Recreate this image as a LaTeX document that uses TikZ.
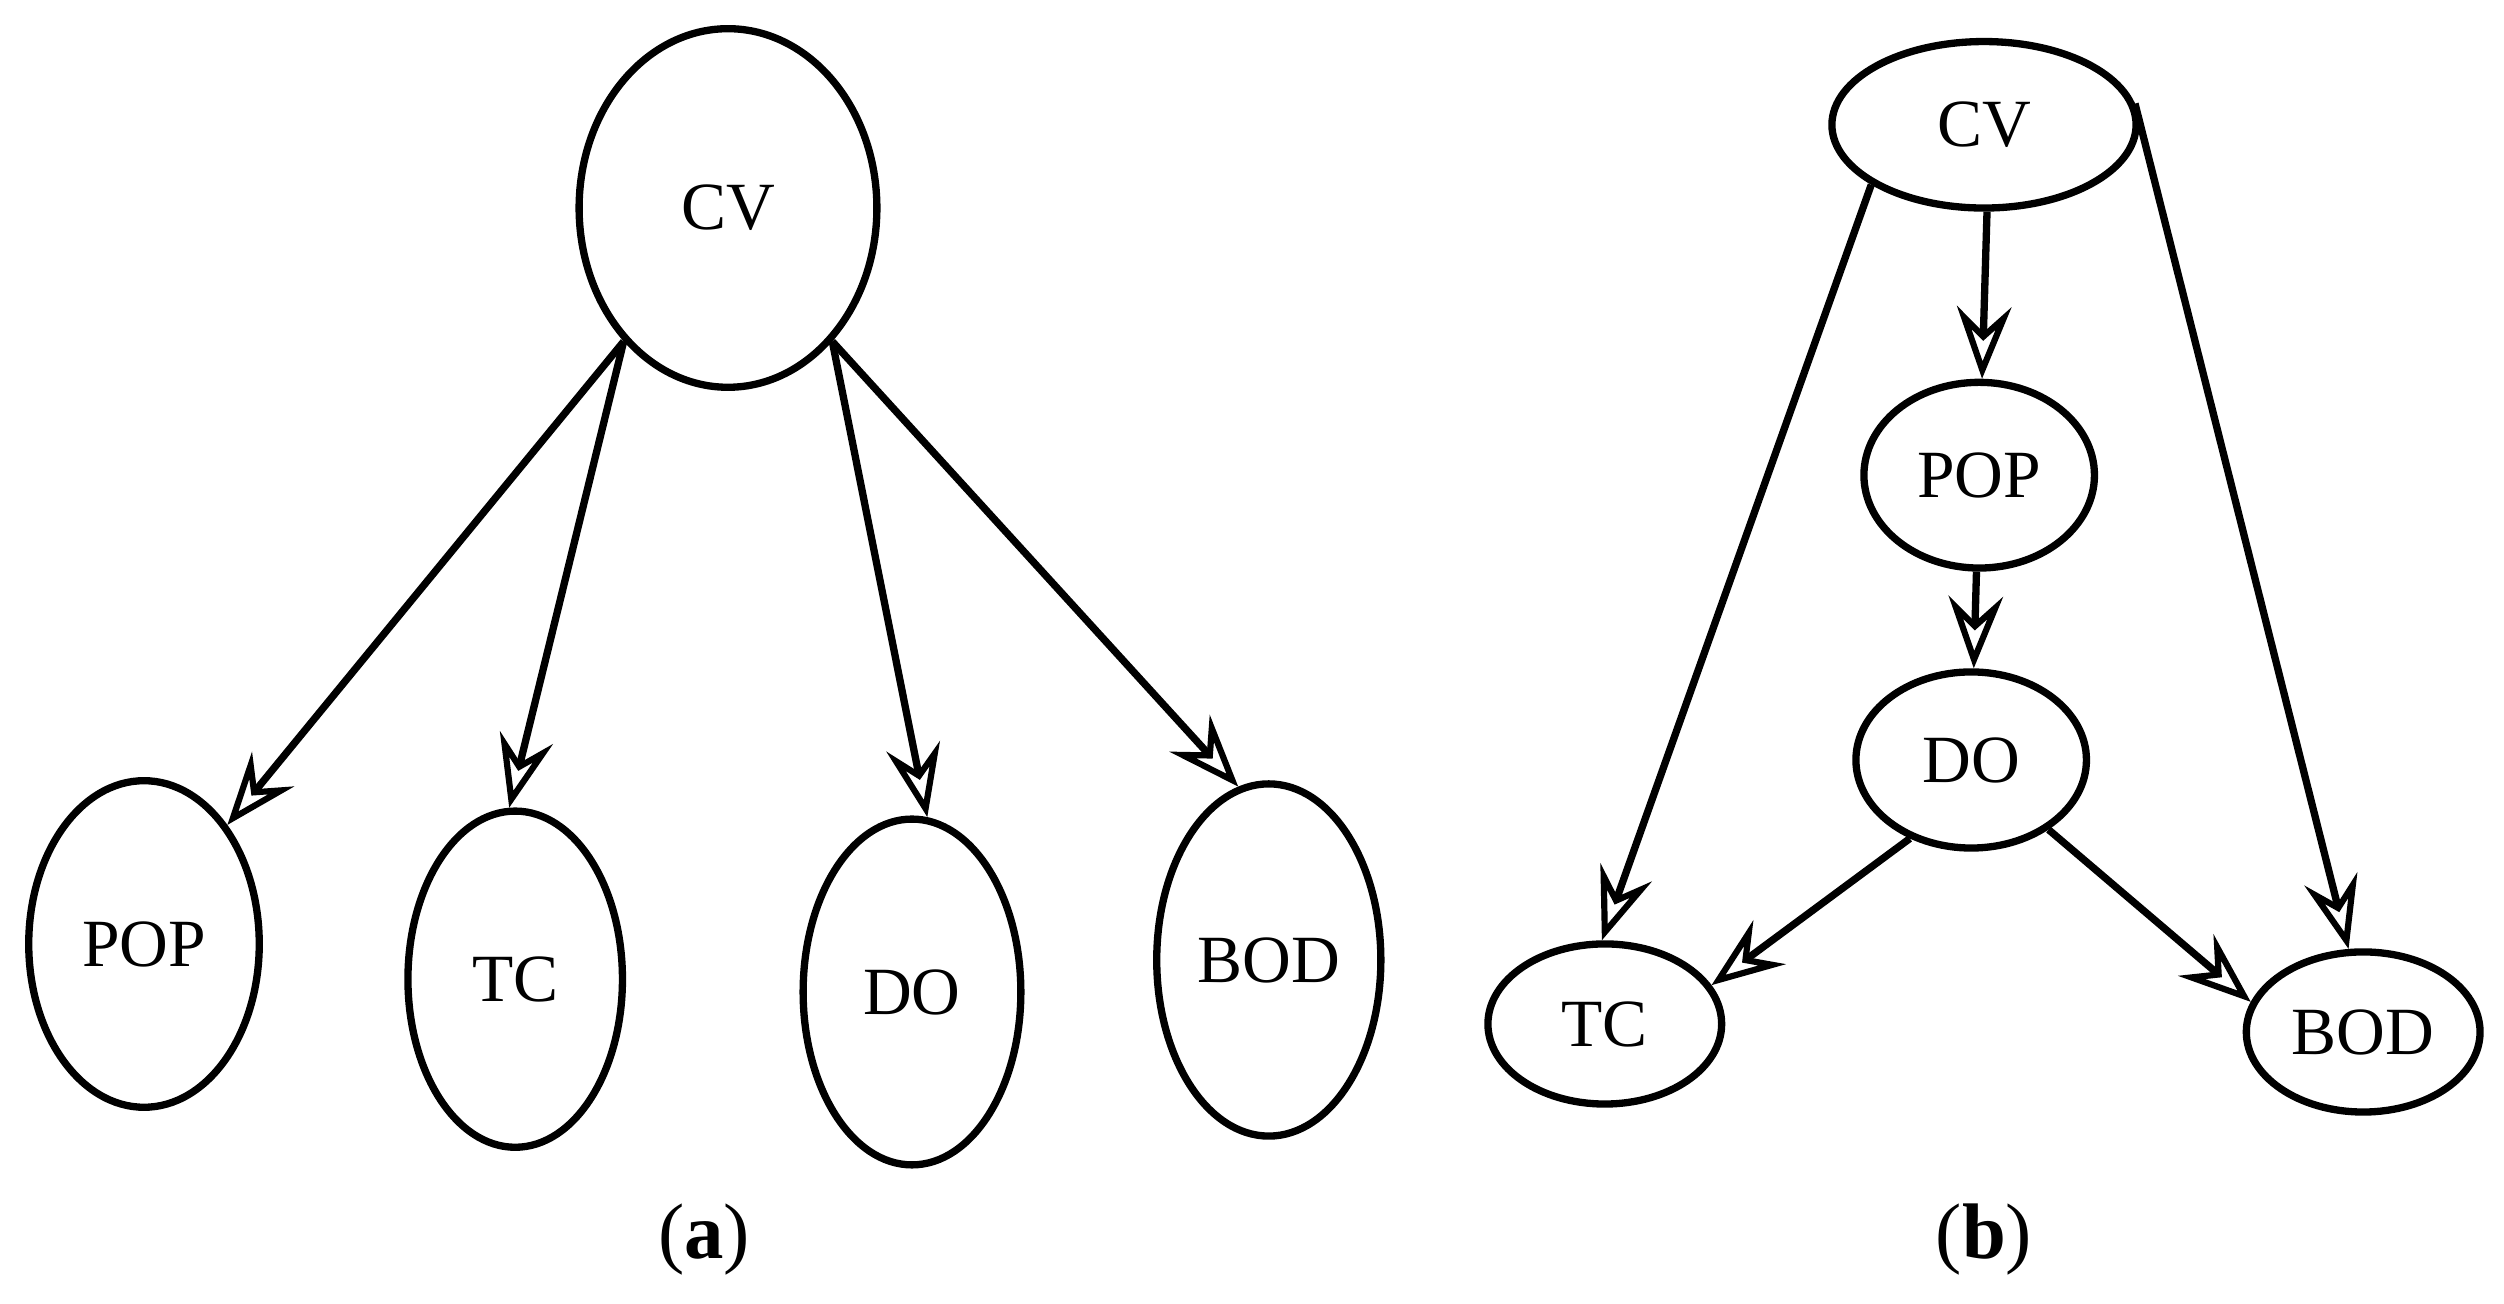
\documentclass[tikz,border=0pt]{standalone}
\usepackage{fontspec}
\setmainfont{Liberation Serif}
\usetikzlibrary{shapes.geometric}
\usetikzlibrary{arrows.meta}

\begin{document}
\begin{tikzpicture}[x=0.01cm,y=0.01cm]
			\tikzstyle{VertexStyle} = [shape = ellipse, draw, line width=1.3pt, inner sep=0pt, font=\fontsize{12}{14}\selectfont]
			\tikzstyle{EdgeStyle}   = [line width=1.3pt, -{Stealth[length=4.5mm,width=3.4mm,inset=1.6mm,line width=1.1pt,open]}]
			\useasboundingbox (0,0) rectangle (1565,815);
			%\draw[help lines] (0,0) grid (1565,815);
			% panel (a)
			\node[VertexStyle, minimum width=1.86cm, minimum height=2.24cm] (cva) at (455,685) {CV};
			\node[VertexStyle, minimum width=1.44cm, minimum height=2.04cm] (popa) at (90,225) {POP};
			\node[VertexStyle, minimum width=1.34cm, minimum height=2.10cm] (tca) at (322,203) {TC};
			\node[VertexStyle, minimum width=1.36cm, minimum height=2.16cm] (doa) at (570,195) {DO};
			\node[VertexStyle, minimum width=1.40cm, minimum height=2.20cm] (boda) at (793,215) {BOD};
			\draw[EdgeStyle] (cva.232) -- (popa.55);
			\draw[EdgeStyle] (cva.232) -- (tca.92);
			\draw[EdgeStyle] (cva.308) -- (doa.85);
			\draw[EdgeStyle] (cva.308) -- (boda.100);
			\node[font=\fontsize{14}{16}\selectfont] (capa) at (440,40) {(\textbf{a})};
			% panel (b)
			\node[VertexStyle, minimum width=1.90cm, minimum height=1.04cm] (cvb) at (1240,737) {CV};
			\node[VertexStyle, minimum width=1.44cm, minimum height=1.16cm] (popb) at (1237,518) {POP};
			\node[VertexStyle, minimum width=1.44cm, minimum height=1.10cm] (dob) at (1232,340) {DO};
			\node[VertexStyle, minimum width=1.46cm, minimum height=1.00cm] (tcb) at (1003,175) {TC};
			\node[VertexStyle, minimum width=1.46cm, minimum height=1.00cm] (bodb) at (1477,170) {BOD};
			\draw[EdgeStyle] (cvb.208) -- (tcb.92);
			\draw[EdgeStyle] (cvb.272) -- (popb);
			\draw[EdgeStyle] (popb) -- (dob);
			\draw[EdgeStyle] (cvb.8) -- (bodb.100);
			\draw[EdgeStyle] (dob.232) -- (tcb.20);
			\draw[EdgeStyle] (dob.318) -- (bodb.165);
			\node[font=\fontsize{14}{16}\selectfont] (capb) at (1240,40) {(\textbf{b})};
\end{tikzpicture}
\end{document}
